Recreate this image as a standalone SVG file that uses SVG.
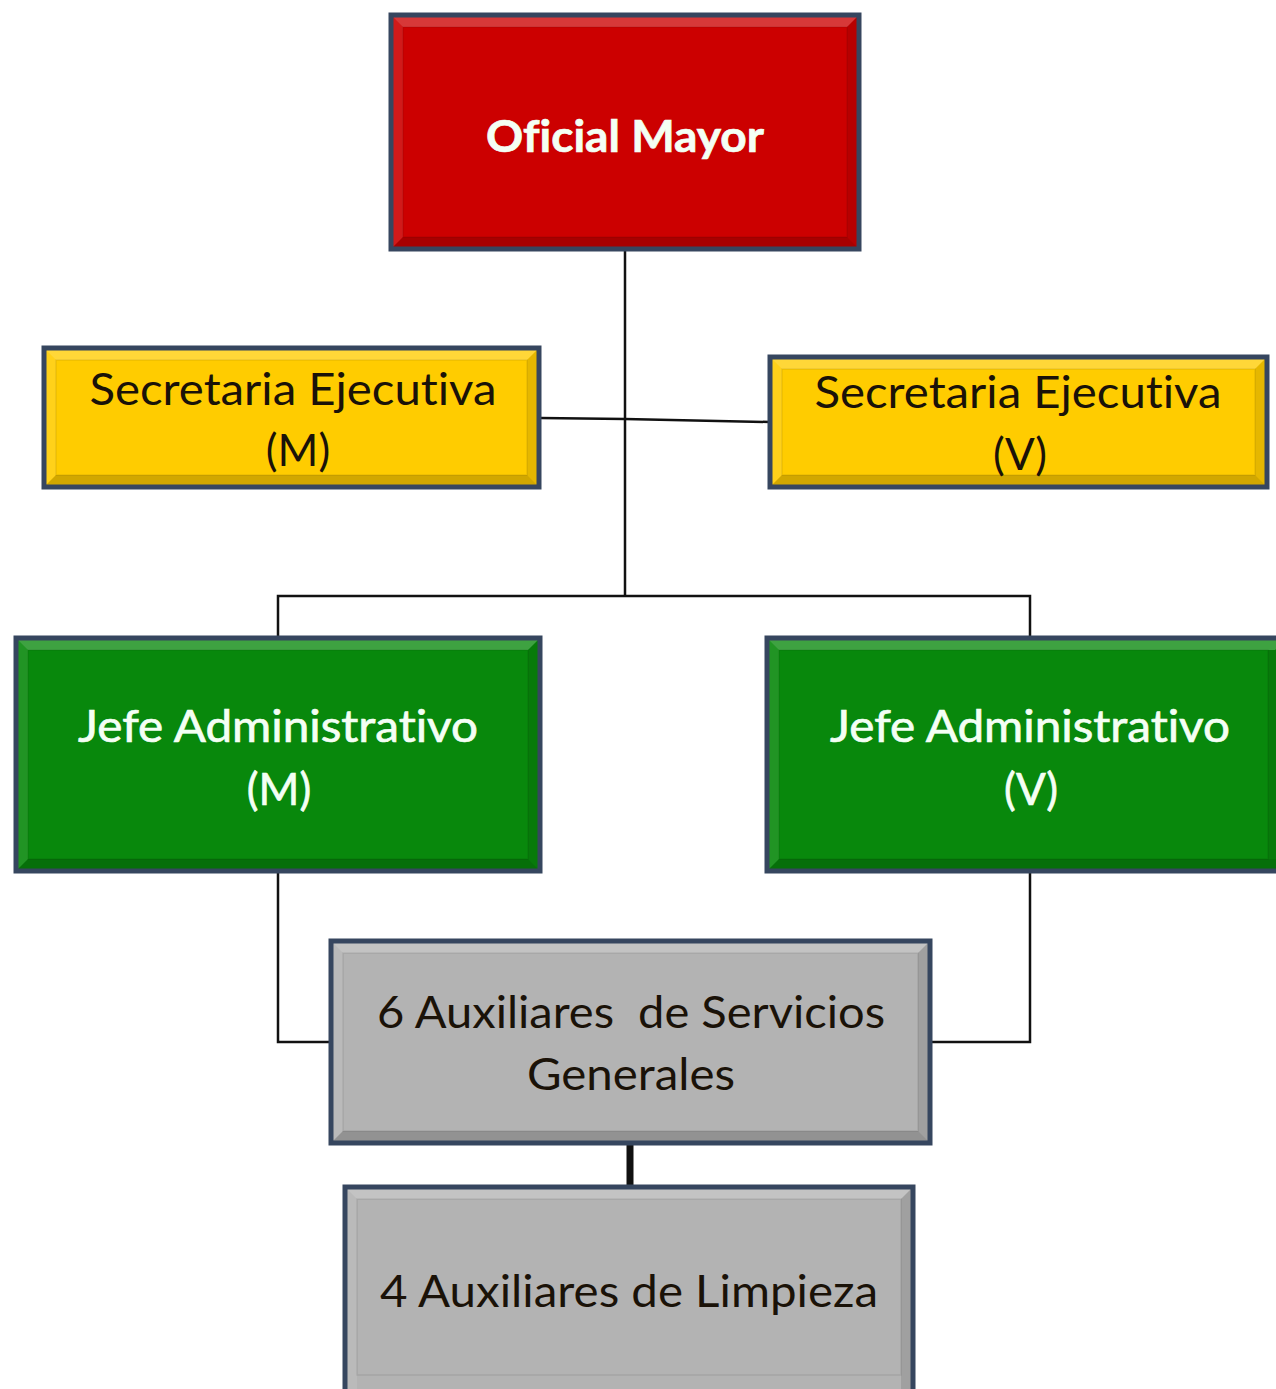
<svg xmlns="http://www.w3.org/2000/svg" width="1276" height="1389" viewBox="0 0 1276 1389">
<style>
.frame{stroke:#36465f;stroke-width:5;}
.red{fill:#cc0000;}
.yel{fill:#ffcc00;}
.grn{fill:#08880c;}
.gry{fill:#b3b3b3;}
.hi{fill:#ffffff;opacity:0.22;}
.hs{fill:#ffffff;opacity:0.1;}
.sh{fill:#000000;opacity:0.18;}
.sd{fill:#000000;opacity:0.1;}
.inner{fill:none;stroke:#000;stroke-opacity:0.08;stroke-width:1.5;}
.conn{stroke:#111;stroke-width:2.5;fill:none;}
.t{font-family:Lato,"Open Sans","Liberation Sans",sans-serif;font-size:44px;text-anchor:middle;font-variant-ligatures:none;font-feature-settings:"liga" 0,"clig" 0;}
.w{fill:#f4fff4;stroke:#f4fff4;stroke-width:0.7;}
.k{fill:#1a1208;}
</style>
<rect width="1276" height="1389" fill="#ffffff"/>
<g id="connectors">
<line class="conn" x1="625" y1="249" x2="625" y2="597"/>
<polyline class="conn" points="540,418 625,419 770,422" stroke="#333"/>
<polyline class="conn" points="278,637 278,596 1030,596 1030,637"/>
<polyline class="conn" points="278,871 278,1042 331,1042"/>
<polyline class="conn" points="1030,871 1030,1042 930,1042"/>
<line x1="630" y1="1143" x2="630" y2="1188" stroke="#111" stroke-width="7"/>
</g>
<g id="oficial-mayor">
<rect class="red" x="391" y="15" width="468" height="234"/>
<polygon class="hi" points="391,15 859,15 847,27 403,27"/>
<polygon class="hs" points="391,15 403,27 403,237 391,249"/>
<polygon class="sd" points="859,15 847,27 847,237 859,249"/>
<polygon class="sh" points="391,249 403,237 847,237 859,249"/>
<rect class="inner" x="403" y="27" width="444" height="210"/>
<rect class="frame" x="391" y="15" width="468" height="234" fill="none"/>
<text class="t w" x="625" y="152" textLength="278" lengthAdjust="spacingAndGlyphs" style="font-weight:bold">Oficial Mayor</text>
</g>
<g id="secretaria-m">
<rect class="yel" x="44" y="348" width="495" height="139"/>
<polygon class="hi" points="44,348 539,348 527,360 56,360"/>
<polygon class="hs" points="44,348 56,360 56,475 44,487"/>
<polygon class="sd" points="539,348 527,360 527,475 539,487"/>
<polygon class="sh" points="44,487 56,475 527,475 539,487"/>
<rect class="inner" x="56" y="360" width="471" height="115"/>
<rect class="frame" x="44" y="348" width="495" height="139" fill="none"/>
<text class="t k" x="293" y="405" textLength="407" lengthAdjust="spacingAndGlyphs">Secretaria Ejecutiva</text>
<text class="t k" x="298" y="466">(M)</text>
</g>
<g id="secretaria-v">
<rect class="yel" x="770" y="357" width="497" height="130"/>
<polygon class="hi" points="770,357 1267,357 1255,369 782,369"/>
<polygon class="hs" points="770,357 782,369 782,475 770,487"/>
<polygon class="sd" points="1267,357 1255,369 1255,475 1267,487"/>
<polygon class="sh" points="770,487 782,475 1255,475 1267,487"/>
<rect class="inner" x="782" y="369" width="473" height="106"/>
<rect class="frame" x="770" y="357" width="497" height="130" fill="none"/>
<text class="t k" x="1018" y="408" textLength="407" lengthAdjust="spacingAndGlyphs">Secretaria Ejecutiva</text>
<text class="t k" x="1020" y="470">(V)</text>
</g>
<g id="jefe-m">
<rect class="grn" x="16" y="638" width="524" height="233"/>
<polygon class="hi" points="16,638 540,638 528,650 28,650"/>
<polygon class="hs" points="16,638 28,650 28,859 16,871"/>
<polygon class="sd" points="540,638 528,650 528,859 540,871"/>
<polygon class="sh" points="16,871 28,859 528,859 540,871"/>
<rect class="inner" x="28" y="650" width="500" height="209"/>
<rect class="frame" x="16" y="638" width="524" height="233" fill="none"/>
<text class="t w" x="278" y="742" textLength="400" lengthAdjust="spacingAndGlyphs">Jefe Administrativo</text>
<text class="t w" x="279" y="805">(M)</text>
</g>
<g id="jefe-v">
<rect class="grn" x="767" y="638" width="520" height="233"/>
<polygon class="hi" points="767,638 1287,638 1275,650 779,650"/>
<polygon class="hs" points="767,638 779,650 779,859 767,871"/>
<polygon class="sd" points="1276,650 1268,650 1268,859 1276,859"/>
<polygon class="sh" points="767,871 779,859 1287,859 1287,871"/>
<rect class="inner" x="779" y="650" width="489" height="209"/>
<rect class="frame" x="767" y="638" width="520" height="233" fill="none"/>
<text class="t w" x="1030" y="742" textLength="400" lengthAdjust="spacingAndGlyphs">Jefe Administrativo</text>
<text class="t w" x="1031" y="805">(V)</text>
</g>
<g id="auxiliares-servicios">
<rect class="gry" x="331" y="941" width="599" height="202"/>
<polygon class="hi" points="331,941 930,941 918,953 343,953"/>
<polygon class="hs" points="331,941 343,953 343,1131 331,1143"/>
<polygon class="sd" points="930,941 918,953 918,1131 930,1143"/>
<polygon class="sh" points="331,1143 343,1131 918,1131 930,1143"/>
<rect class="inner" x="343" y="953" width="575" height="178"/>
<rect class="frame" x="331" y="941" width="599" height="202" fill="none"/>
<text class="t k" x="631" y="1028" textLength="508" lengthAdjust="spacingAndGlyphs" xml:space="preserve">6 Auxiliares  de Servicios</text>
<text class="t k" x="631" y="1090" textLength="208" lengthAdjust="spacingAndGlyphs">Generales</text>
</g>
<g id="auxiliares-limpieza">
<rect class="gry" x="345" y="1187" width="568" height="210"/>
<polygon class="hi" points="345,1187 913,1187 901,1199 357,1199"/>
<polygon class="hs" points="345,1187 357,1199 357,1389 345,1389"/>
<polygon class="sd" points="913,1187 901,1199 901,1389 913,1389"/>
<rect class="inner" x="357" y="1199" width="544" height="176"/>
<rect class="frame" x="345" y="1187" width="568" height="210" fill="none"/>
<text class="t k" x="629" y="1307" textLength="498" lengthAdjust="spacingAndGlyphs">4 Auxiliares de Limpieza</text>
</g>
</svg>
